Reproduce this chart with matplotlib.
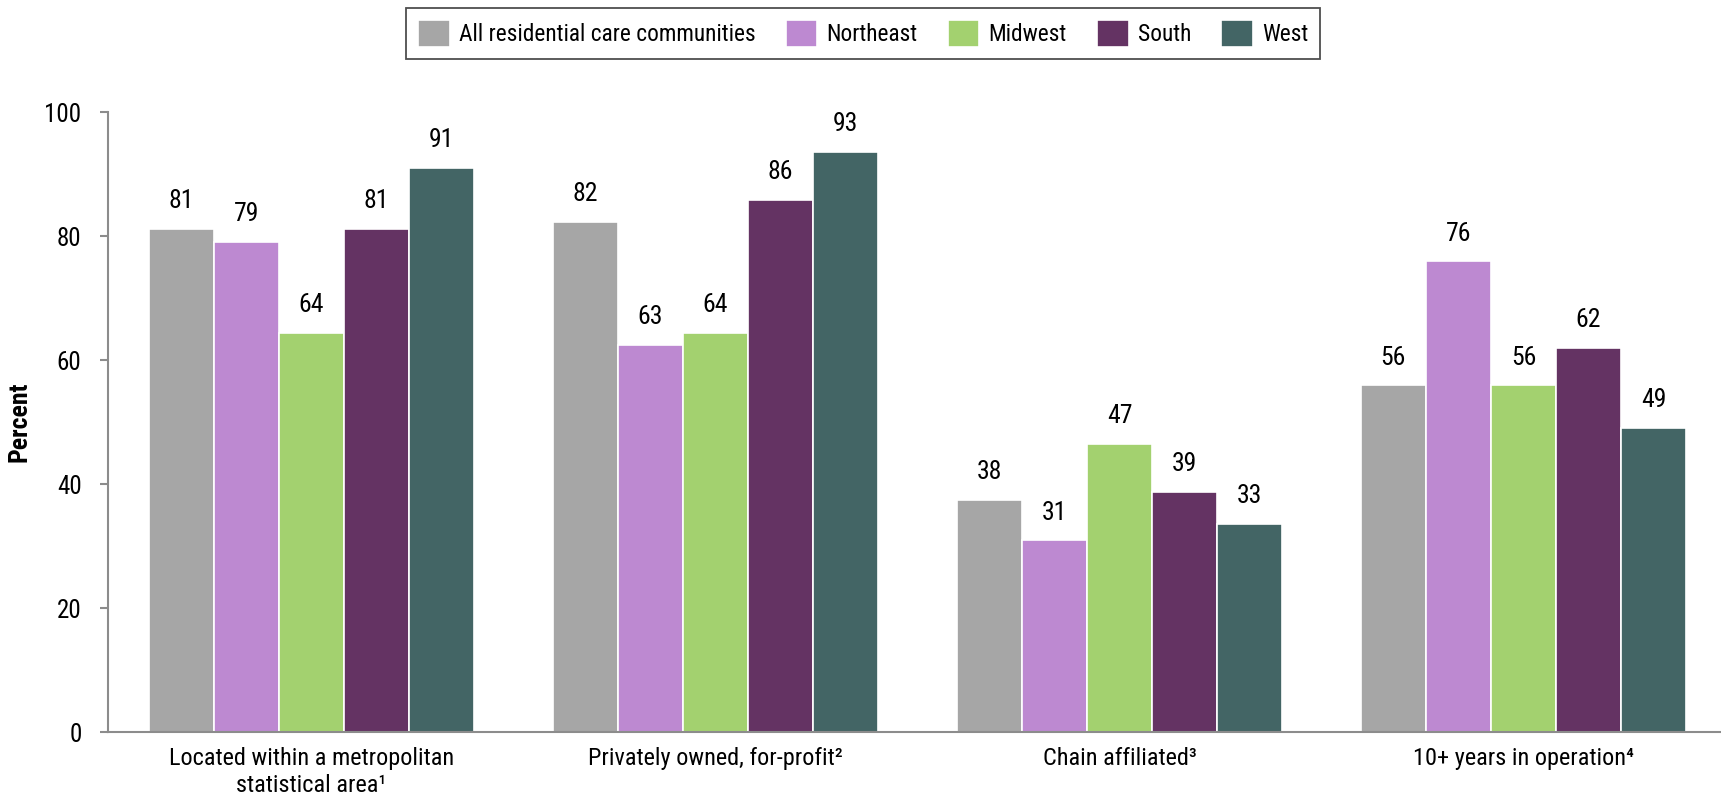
import numpy as np
import matplotlib.pyplot as plt
from matplotlib import font_manager as fm

categories = ["Located within a metropolitan\nstatistical area\u00b9",
              "Privately owned, for-profit\u00b2",
              "Chain affiliated\u00b3",
              "10+ years in operation\u2074"]
series = ["All residential care communities", "Northeast", "Midwest", "South", "West"]
colors = ["#A6A6A6", "#BD89D1", "#A3D16F", "#643363", "#436565"]

heights = [
    [81.2, 82.3, 37.4, 55.9],
    [79.1, 62.4, 30.9, 75.9],
    [64.4, 64.4, 46.5, 55.9],
    [81.2, 85.8, 38.7, 61.9],
    [91.0, 93.6, 33.5, 49.1],
]
labels = [
    [81, 82, 38, 56],
    [79, 63, 31, 76],
    [64, 64, 47, 56],
    [81, 86, 39, 62],
    [91, 93, 33, 49],
]


def pick_font():
    # look for a narrow face, the original uses a condensed font
    fonts = fm.fontManager.ttflist
    names = {f.name for f in fonts}
    for n in ["Liberation Sans Narrow", "Roboto Condensed", "Open Sans Condensed",
              "DejaVu Sans Condensed", "Noto Sans Condensed"]:
        if n in names:
            return n, "normal"
    for n in ["DejaVu Sans", "Roboto", "Noto Sans", "Open Sans"]:
        for f in fonts:
            if f.name == n and str(f.stretch) in ("condensed", "semi-condensed"):
                return n, f.stretch
    return "DejaVu Sans", "normal"


def main():
    fam, stretch = pick_font()
    plt.rcParams['font.family'] = [fam, 'DejaVu Sans']
    plt.rcParams['font.stretch'] = stretch

    fig = plt.figure(figsize=(17.21, 8.07), dpi=100)
    ax = fig.add_axes([108 / 1721, 75 / 807, 1 - 108 / 1721, (732 - 112) / 807])

    x = np.arange(len(categories))
    w = 0.161
    for i, name in enumerate(series):
        pos = x + (i - 2) * w
        bars = ax.bar(pos, heights[i], w, color=colors[i], edgecolor="white",
                      linewidth=1.2, label=name, zorder=2)
        for b, lab in zip(bars, labels[i]):
            ax.annotate(str(lab), (b.get_x() + b.get_width() / 2, b.get_height()),
                        xytext=(0, 15), textcoords="offset points",
                        ha="center", va="baseline", fontsize=18.5)

    ax.set_xlim(-0.504, 3.489)
    ax.set_ylim(0, 100)
    ax.set_yticks([0, 20, 40, 60, 80, 100])
    ax.set_xticks(x)
    ax.set_xticklabels(categories, fontsize=17.5, linespacing=1.2)
    ax.tick_params(axis="x", length=0, pad=11)
    ax.tick_params(axis="y", length=6, width=1.5, color="#8C8C8C", pad=13, labelsize=18)

    for s in ["top", "right"]:
        ax.spines[s].set_visible(False)
    for s in ["left", "bottom"]:
        ax.spines[s].set_color("#8C8C8C")
        ax.spines[s].set_linewidth(1.5)

    fig.text(20 / 1721, 0.477, "Percent", rotation=90, ha="center", va="center",
             fontsize=18.5, fontweight="bold")

    leg = fig.legend(loc="upper center", bbox_to_anchor=(0.5015, 0.990), ncol=5,
                     fontsize=16.8, frameon=True, fancybox=False, edgecolor="#222222",
                     handlelength=1.36, handleheight=1.36, handletextpad=0.38,
                     columnspacing=1.3, borderpad=0.52, borderaxespad=0)
    leg.get_frame().set_linewidth(1.3)

    plt.savefig("out.png", dpi=100)


if __name__ == '__main__':
    main()
